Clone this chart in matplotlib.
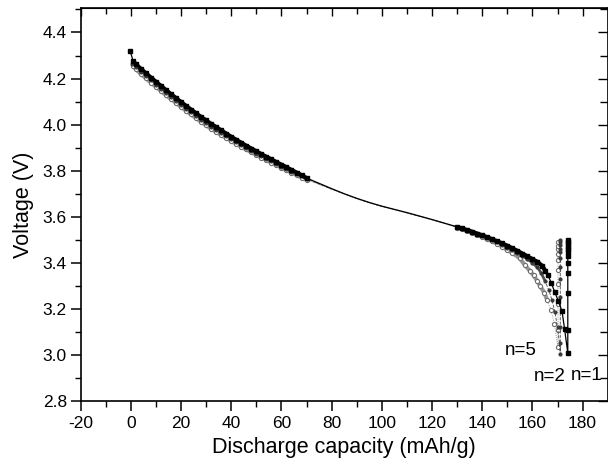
import matplotlib
matplotlib.use("Agg")
import matplotlib.pyplot as plt
import numpy as np

plt.rcParams['font.family'] = ['Liberation Sans', 'DejaVu Sans']

# ---- data ----
n1_x = [-0.3, 0.9, 2, 4, 6, 8, 10, 12, 14, 16, 18, 20, 22, 24, 26, 28, 30, 32, 34, 36, 38,
        40, 42, 44, 46, 48, 50, 52, 54, 56, 58, 60, 62, 64, 66, 68, 70,
        75, 80, 85, 90, 95, 100, 105, 110, 115, 120, 125,
        130, 132, 134, 136, 138, 140, 142, 144, 146, 148, 150, 152, 154, 156, 158, 160,
        162, 164, 165.2, 166.2, 167.5, 168.9, 170.3, 171.8, 172.8, 174.1,
        174.1, 174.1, 174.1, 174.1, 174.1, 174.1, 174.1, 174.1, 174.1, 174.1, 174.1]
n1_v = [4.320, 4.276, 4.262, 4.242, 4.223, 4.204, 4.186, 4.168, 4.150, 4.132, 4.115, 4.098,
        4.081, 4.065, 4.049, 4.033, 4.018, 4.003, 3.989, 3.975, 3.961,
        3.947, 3.934, 3.921, 3.908, 3.896, 3.884, 3.872, 3.860, 3.849, 3.837, 3.826, 3.815,
        3.803, 3.792, 3.780, 3.768,
        3.745, 3.722, 3.700, 3.680, 3.662, 3.646, 3.632, 3.618, 3.603, 3.588, 3.572,
        3.556, 3.549, 3.542, 3.535, 3.527, 3.519, 3.511, 3.502, 3.493, 3.484, 3.474, 3.463,
        3.452, 3.440, 3.428, 3.416,
        3.404, 3.386, 3.364, 3.346, 3.313, 3.273, 3.235, 3.190, 3.114, 3.008,
        3.110, 3.270, 3.354, 3.400, 3.430, 3.445, 3.458, 3.470, 3.480, 3.490, 3.497]

n2_x = [0.6, 2, 4, 6, 8, 10, 12, 14, 16, 18, 20, 22, 24, 26, 28, 30, 32, 34, 36, 38,
        40, 42, 44, 46, 48, 50, 52, 54, 56, 58, 60, 62, 64, 66, 68, 70,
        75, 80, 85, 90, 95, 100, 105, 110, 115, 120, 125,
        130, 132, 134, 136, 138, 140, 142, 144, 146, 148, 150, 152, 154, 156, 158, 160,
        162, 163.5, 165, 166.5, 167.8, 169, 170, 170.8, 171.1,
        171.1, 171.1, 171.1, 171.1, 171.1, 171.1, 171.1, 171.1, 171.1, 171.1]
n2_v = [4.262, 4.250, 4.230, 4.211, 4.192, 4.174, 4.156, 4.138, 4.120, 4.103, 4.086,
        4.069, 4.053, 4.037, 4.021, 4.006, 3.991, 3.977, 3.963, 3.950,
        3.937, 3.924, 3.911, 3.898, 3.886, 3.874, 3.862, 3.851, 3.840, 3.829, 3.818, 3.807,
        3.796, 3.786, 3.775, 3.764,
        3.742, 3.720, 3.699, 3.679, 3.661, 3.645, 3.631, 3.617, 3.602, 3.587, 3.571,
        3.555, 3.548, 3.541, 3.533, 3.525, 3.517, 3.508, 3.499, 3.489, 3.478, 3.466, 3.455,
        3.443, 3.430, 3.416, 3.400,
        3.380, 3.356, 3.322, 3.282, 3.238, 3.185, 3.120, 3.050, 3.003,
        3.120, 3.250, 3.330, 3.380, 3.420, 3.445, 3.462, 3.478, 3.490, 3.500]

n5_x = [0.9, 2, 4, 6, 8, 10, 12, 14, 16, 18, 20, 22, 24, 26, 28, 30, 32, 34, 36, 38,
        40, 42, 44, 46, 48, 50, 52, 54, 56, 58, 60, 62, 64, 66, 68, 70,
        75, 80, 85, 90, 95, 100, 105, 110, 115, 120, 125,
        130, 132, 134, 136, 138, 140, 142, 144, 146, 148, 150, 152, 154.9, 157, 159,
        160.5, 162, 163, 164.8, 165.9, 167.3, 168.8, 170.1,
        170.2, 170.2, 170.2, 170.2, 170.2, 170.2, 170.2, 170.2, 170.2]
n5_v = [4.255, 4.240, 4.220, 4.201, 4.182, 4.164, 4.146, 4.128, 4.111, 4.094, 4.077,
        4.060, 4.044, 4.028, 4.012, 3.997, 3.982, 3.968, 3.955, 3.942,
        3.929, 3.916, 3.904, 3.892, 3.880, 3.868, 3.857, 3.846, 3.835, 3.824, 3.813, 3.802,
        3.792, 3.781, 3.770, 3.760,
        3.740, 3.719, 3.698, 3.678, 3.660, 3.644, 3.630, 3.616, 3.601, 3.586, 3.570,
        3.553, 3.546, 3.538, 3.530, 3.521, 3.512, 3.503, 3.493, 3.482, 3.470, 3.455, 3.443,
        3.420, 3.390, 3.365,
        3.345, 3.320, 3.300, 3.270, 3.237, 3.197, 3.136, 3.034,
        3.110, 3.220, 3.310, 3.370, 3.410, 3.440, 3.460, 3.475, 3.490]

labels = ["n=1", "n=2", "n=5"]
label_pos_x = [181.5, 166.9, 155.3]
label_pos_v = [2.91, 2.905, 3.02]

x_ticks = [-20, 0, 20, 40, 60, 80, 100, 120, 140, 160, 180]
y_ticks = [2.8, 3.0, 3.2, 3.4, 3.6, 3.8, 4.0, 4.2, 4.4]

# ---- figure ----
fig = plt.figure(figsize=(6.08, 4.66), dpi=100)
ax = fig.add_axes([0.1327, 0.1395, 0.8668, 0.8427])


def mark_idx(xs):
    return [i for i, v in enumerate(xs) if v <= 70 or v >= 130]


def dense_part(xs, vs, lo, hi):
    xa = np.asarray(xs, float)
    va = np.asarray(vs, float).copy()
    va[~(((xa >= lo) & (xa <= 70)) | ((xa >= 130) & (xa <= hi)))] = np.nan
    return xa, va


# thick bands where the recorded points are dense
xa, va = dense_part(n5_x, n5_v, 0.9, 166)
ax.plot(xa, va, color='#9a9a9a', lw=3.0, solid_capstyle='butt', zorder=1)
xa, va = dense_part(n2_x, n2_v, 0.6, 165)
ax.plot(xa, va, color='#555555', lw=2.0, solid_capstyle='butt', zorder=2)
xa, va = dense_part(n1_x, n1_v, 0.9, 166)
ax.plot(xa, va, color='black', lw=3.0, solid_capstyle='butt', zorder=3)

ax.plot(n5_x, n5_v, color='#7a7a7a', lw=0.6, ls=':', marker='o', ms=3.0,
        mfc='white', mec='#6e6e6e', mew=0.8, markevery=mark_idx(n5_x), zorder=2)
ax.plot(n2_x, n2_v, color='#444444', lw=0.6, ls='--', marker='o', ms=2.0,
        mfc='#3a3a3a', mec='#3a3a3a', markevery=mark_idx(n2_x), zorder=3)
ax.plot(n1_x, n1_v, color='black', lw=0.9, marker='s', ms=3.0,
        mfc='black', mec='black', markevery=mark_idx(n1_x), zorder=4)

for t, xx, yy in zip(labels, label_pos_x, label_pos_v):
    ax.text(xx, yy, t, fontsize=13.5, ha='center', va='center', color='black')

ax.set_xlim(-20, 190)
ax.set_ylim(2.8, 4.505)
ax.set_xticks(x_ticks)
ax.set_yticks(y_ticks)
ax.set_xticks(np.arange(-20, 190, 10), minor=True)
ax.set_yticks(np.arange(2.8, 4.51, 0.1), minor=True)
ax.set_xticklabels([str(v) for v in x_ticks])
ax.set_yticklabels([f"{v:.1f}" for v in y_ticks])
ax.tick_params(axis='both', which='major', direction='out', length=7, width=1.1,
               labelsize=12.5, top=False, right=False)
ax.tick_params(axis='both', which='minor', direction='out', length=4, width=1.0,
               top=False, right=False)
ax.tick_params(axis='x', pad=4)
ax.tick_params(axis='y', pad=3)

for s in ax.spines.values():
    s.set_linewidth(1.2)

secx = ax.secondary_xaxis('top')
secx.set_xticks(x_ticks)
secx.set_xticks(np.arange(-20, 190, 10), minor=True)
secx.tick_params(which='major', direction='in', length=6, width=1.0, labeltop=False)
secx.tick_params(which='minor', direction='in', length=4, width=1.0)
secx.set_xticklabels([])

secy = ax.secondary_yaxis('right')
secy.set_yticks(y_ticks)
secy.set_yticks(np.arange(2.8, 4.51, 0.1), minor=True)
secy.tick_params(which='major', direction='in', length=7, width=1.0, labelright=False)
secy.tick_params(which='minor', direction='in', length=6, width=1.0)
secy.set_yticklabels([])

ax.set_xlabel("Discharge capacity (mAh/g)", fontsize=15.5, labelpad=4)
ax.set_ylabel("Voltage (V)", fontsize=15.5, labelpad=6)

fig.savefig("out.png", dpi=100)
